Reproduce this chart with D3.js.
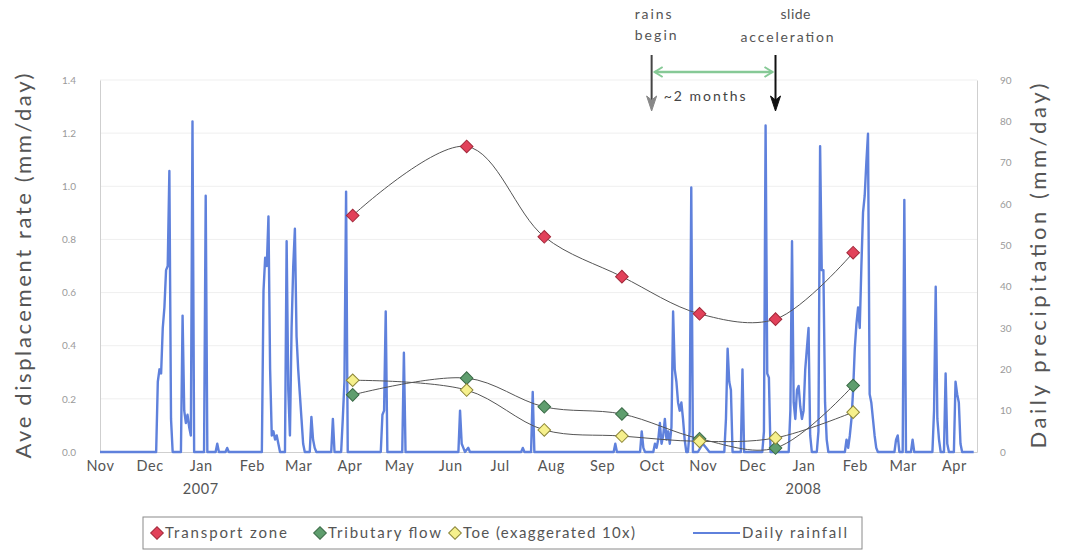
<!DOCTYPE html>
<html>
<head>
<meta charset="utf-8">
<script src="https://cdn.jsdelivr.net/npm/d3@7"></script>
<style>
  body { margin: 0; background: #fff; }
  svg { display: block; font-family: Lato, "Open Sans", sans-serif; }
</style>
</head>
<body>
<div id="chart"></div>
<script>
// displacement survey dates and rates (mm/day)
const sampleDates = ["2007-04-03", "2007-06-11", "2007-07-28", "2007-09-13", "2007-10-30", "2007-12-15", "2008-01-31"]
const transportZone = [0.89, 1.15, 0.81, 0.66, 0.52, 0.50, 0.75]
const tributaryFlow = [0.215, 0.278, 0.17, 0.143, 0.05, 0.015, 0.25]
const toeRate = [0.27, 0.233, 0.083, 0.06, 0.04, 0.053, 0.15]

const leftTicks = [0, 0.2, 0.4, 0.6, 0.8, 1.0, 1.2, 1.4]
const rightTicks = [0, 10, 20, 30, 40, 50, 60, 70, 80, 90]
const yearTicks = ["2007-01-01", "2008-01-01"]

// daily rainfall (mm/day), dry stretches between listed days are 0
const rainfall = [
  ["2006-11-01", 0],
  ["2006-12-05", 0], ["2006-12-06", 17], ["2006-12-07", 20], ["2006-12-08", 19], ["2006-12-09", 30], ["2006-12-10", 35],
  ["2006-12-11", 44], ["2006-12-12", 45], ["2006-12-13", 68], ["2006-12-14", 8], ["2006-12-15", 0],
  ["2006-12-20", 0], ["2006-12-21", 33], ["2006-12-22", 10], ["2006-12-23", 7], ["2006-12-24", 9], ["2006-12-25", 6],
  ["2006-12-26", 4], ["2006-12-27", 80], ["2006-12-28", 0],
  ["2007-01-03", 0], ["2007-01-04", 62], ["2007-01-05", 0],
  ["2007-01-10", 0], ["2007-01-11", 2], ["2007-01-12", 0],
  ["2007-01-16", 0], ["2007-01-17", 1], ["2007-01-18", 0],
  ["2007-02-07", 0], ["2007-02-08", 39], ["2007-02-09", 47], ["2007-02-10", 45], ["2007-02-11", 57], ["2007-02-12", 20],
  ["2007-02-13", 4], ["2007-02-14", 5], ["2007-02-15", 3], ["2007-02-16", 4], ["2007-02-17", 2], ["2007-02-18", 0],
  ["2007-02-21", 0], ["2007-02-22", 51], ["2007-02-23", 15], ["2007-02-24", 4], ["2007-02-25", 30], ["2007-02-26", 45],
  ["2007-02-27", 54], ["2007-02-28", 28], ["2007-03-01", 20], ["2007-03-02", 14], ["2007-03-03", 8], ["2007-03-04", 2], ["2007-03-05", 0],
  ["2007-03-08", 0], ["2007-03-09", 8.5], ["2007-03-10", 3], ["2007-03-11", 1], ["2007-03-12", 0],
  ["2007-03-21", 0], ["2007-03-22", 8], ["2007-03-23", 0],
  ["2007-03-27", 0], ["2007-03-28", 8], ["2007-03-29", 17], ["2007-03-30", 63], ["2007-03-31", 0],
  ["2007-04-20", 0], ["2007-04-21", 9], ["2007-04-22", 10], ["2007-04-23", 34], ["2007-04-24", 0],
  ["2007-05-03", 0], ["2007-05-04", 24], ["2007-05-05", 0],
  ["2007-06-06", 0], ["2007-06-07", 10], ["2007-06-08", 2], ["2007-06-09", 1], ["2007-06-10", 0], ["2007-06-12", 1], ["2007-06-13", 0],
  ["2007-07-14", 0], ["2007-07-15", 1], ["2007-07-16", 0],
  ["2007-07-20", 0], ["2007-07-21", 14.5], ["2007-07-22", 0],
  ["2007-09-08", 0], ["2007-09-09", 2], ["2007-09-10", 0],
  ["2007-09-24", 0], ["2007-09-25", 5], ["2007-09-26", 1], ["2007-09-27", 0],
  ["2007-10-02", 0], ["2007-10-03", 2], ["2007-10-04", 1], ["2007-10-05", 3], ["2007-10-06", 7], ["2007-10-07", 2],
  ["2007-10-08", 4], ["2007-10-09", 8], ["2007-10-10", 3], ["2007-10-11", 5], ["2007-10-12", 2], ["2007-10-13", 6],
  ["2007-10-14", 34], ["2007-10-15", 20], ["2007-10-16", 17], ["2007-10-17", 12], ["2007-10-18", 10], ["2007-10-19", 12],
  ["2007-10-20", 8], ["2007-10-21", 3], ["2007-10-22", 0],
  ["2007-10-23", 0], ["2007-10-24", 5], ["2007-10-25", 64], ["2007-10-26", 0],
  ["2007-10-29", 0], ["2007-11-01", 2], ["2007-11-03", 1], ["2007-11-05", 0],
  ["2007-11-14", 0], ["2007-11-15", 8], ["2007-11-16", 25], ["2007-11-17", 17], ["2007-11-18", 15], ["2007-11-19", 0],
  ["2007-11-24", 0], ["2007-11-25", 20], ["2007-11-26", 0],
  ["2007-12-07", 0], ["2007-12-08", 5], ["2007-12-09", 79], ["2007-12-10", 19], ["2007-12-11", 18], ["2007-12-12", 0],
  ["2007-12-23", 0], ["2007-12-24", 10], ["2007-12-25", 51], ["2007-12-26", 12], ["2007-12-27", 8], ["2007-12-28", 15],
  ["2007-12-29", 16], ["2007-12-30", 11], ["2007-12-31", 8], ["2008-01-01", 10], ["2008-01-02", 20], ["2008-01-03", 25],
  ["2008-01-04", 30], ["2008-01-05", 4], ["2008-01-06", 0],
  ["2008-01-09", 0], ["2008-01-10", 5], ["2008-01-11", 74], ["2008-01-12", 44], ["2008-01-13", 44], ["2008-01-14", 12],
  ["2008-01-15", 3], ["2008-01-16", 0],
  ["2008-01-26", 0], ["2008-01-27", 3], ["2008-01-28", 1], ["2008-01-29", 4], ["2008-01-30", 8], ["2008-01-31", 15],
  ["2008-02-01", 25], ["2008-02-02", 31], ["2008-02-03", 35], ["2008-02-04", 30], ["2008-02-05", 45], ["2008-02-06", 58],
  ["2008-02-07", 62], ["2008-02-08", 70], ["2008-02-09", 77], ["2008-02-10", 14], ["2008-02-11", 12], ["2008-02-12", 8],
  ["2008-02-13", 4], ["2008-02-14", 1], ["2008-02-15", 0],
  ["2008-02-25", 0], ["2008-02-26", 3], ["2008-02-27", 4], ["2008-02-28", 0],
  ["2008-03-01", 0], ["2008-03-02", 61], ["2008-03-03", 0],
  ["2008-03-06", 0], ["2008-03-07", 3], ["2008-03-08", 0],
  ["2008-03-19", 0], ["2008-03-20", 10], ["2008-03-21", 40], ["2008-03-22", 8], ["2008-03-23", 3], ["2008-03-24", 0],
  ["2008-03-26", 0], ["2008-03-27", 19], ["2008-03-28", 2], ["2008-03-29", 0],
  ["2008-04-01", 0], ["2008-04-02", 17], ["2008-04-03", 14], ["2008-04-04", 12], ["2008-04-05", 2], ["2008-04-06", 0],
  ["2008-04-13", 0]
]

const rainsBegin = "2007-10-01"
const slideAcceleration = "2007-12-15"

const parse = d3.timeParse("%Y-%m-%d")
const W = 1072, H = 551

const svg = d3.select("#chart")
  .append("svg")
  .attr("width", W)
  .attr("height", H)

const x = d3.scaleTime()
  .domain([parse("2006-11-01"), parse("2008-04-15")])
  .range([100, 977])
const yL = d3.scaleLinear().domain([0, 1.4]).range([452, 80])
const yR = d3.scaleLinear().domain([0, 90]).range([452, 80])

// gridlines
svg.append("g")
  .selectAll("line")
  .data(leftTicks.slice(1))
  .join("line")
  .attr("x1", 100).attr("x2", 977)
  .attr("y1", d => yL(d)).attr("y2", d => yL(d))
  .attr("stroke", "#efefef")

// axes
const styleAxis = (g, color, size) => {
  g.select(".domain").attr("stroke", "#cfcfcf")
  g.selectAll("text").attr("fill", color).attr("font-size", size).attr("font-family", "Lato, sans-serif")
}

svg.append("g")
  .attr("transform", "translate(100,0)")
  .call(d3.axisLeft(yL).tickValues(leftTicks).tickFormat(d3.format(".1f")).tickSize(0).tickPadding(24))
  .call(g => styleAxis(g, "#9a9a9a", 10))

svg.append("g")
  .attr("transform", "translate(977,0)")
  .call(d3.axisRight(yR).tickValues(rightTicks).tickSize(0).tickPadding(23))
  .call(g => styleAxis(g, "#9a9a9a", 10))

const monthTicks = d3.timeMonth.range(parse("2006-11-01"), parse("2008-04-02"))
svg.append("g")
  .attr("transform", "translate(0,452)")
  .call(d3.axisBottom(x).tickValues(monthTicks).tickFormat(d3.timeFormat("%b")).tickSize(0).tickPadding(9))
  .call(g => styleAxis(g, "#555", 14.5))
  .call(g => g.selectAll("text").attr("letter-spacing", 0.6))

svg.append("g")
  .selectAll("text")
  .data(yearTicks)
  .join("text")
  .attr("x", d => x(parse(d)))
  .attr("y", 494)
  .attr("text-anchor", "middle")
  .attr("fill", "#555")
  .attr("font-size", 14.5)
  .attr("letter-spacing", 0.6)
  .text(d => d.slice(0, 4))

// axis titles
svg.append("text")
  .attr("transform", "translate(31,266) rotate(-90)")
  .attr("text-anchor", "middle")
  .attr("fill", "#555")
  .attr("font-size", 22)
  .attr("textLength", 385)
  .attr("lengthAdjust", "spacing")
  .text("Ave displacement rate (mm/day)")

svg.append("text")
  .attr("transform", "translate(1046,266) rotate(-90)")
  .attr("text-anchor", "middle")
  .attr("fill", "#555")
  .attr("font-size", 22)
  .attr("textLength", 365)
  .attr("lengthAdjust", "spacing")
  .text("Daily precipitation (mm/day)")

// rainfall
const rainLine = d3.line()
  .x(d => x(parse(d[0])))
  .y(d => yR(d[1]))

svg.append("path")
  .datum(rainfall)
  .attr("fill", "none")
  .attr("stroke", "#5f81dc")
  .attr("stroke-width", 2.4)
  .attr("stroke-linejoin", "round")
  .attr("d", rainLine)

// displacement series
const series = [
  {name: "Transport zone", len: 122, values: transportZone, fill: "#e2415a", stroke: "#a3283a"},
  {name: "Tributary flow", len: 113, values: tributaryFlow, fill: "#5f9e6e", stroke: "#3b6b47"},
  {name: "Toe (exaggerated 10x)", len: 172, values: toeRate, fill: "#f6f08c", stroke: "#8c8638"}
]

const dispLine = d3.line()
  .x((d, i) => x(parse(sampleDates[i])))
  .y(d => yL(d))
  .curve(d3.curveCatmullRom)

svg.append("g")
  .selectAll("path")
  .data(series)
  .join("path")
  .attr("fill", "none")
  .attr("stroke", "#555")
  .attr("stroke-width", 1)
  .attr("d", d => dispLine(d.values))

const diamond = d3.symbol().type(d3.symbolSquare).size(80)

series.forEach(s => {
  svg.append("g")
    .selectAll("path")
    .data(s.values)
    .join("path")
    .attr("transform", (d, i) => `translate(${x(parse(sampleDates[i]))},${yL(d)}) rotate(45)`)
    .attr("d", diamond)
    .attr("fill", s.fill)
    .attr("stroke", s.stroke)
    .attr("stroke-width", 1)
})

// annotations
const ax1 = x(parse(rainsBegin)), ax2 = x(parse(slideAcceleration))
const note = svg.append("g").attr("font-size", 14).attr("fill", "#555").attr("lengthAdjust", "spacing")
note.append("text").attr("x", ax1 - 17).attr("y", 19).attr("textLength", 37).text("rains")
note.append("text").attr("x", ax1 - 17).attr("y", 40).attr("textLength", 42).text("begin")
note.append("text").attr("x", ax2 + 5).attr("y", 19).attr("textLength", 30).text("slide")
note.append("text").attr("x", ax2 - 35).attr("y", 42).attr("textLength", 93).text("acceleration")
note.append("text").attr("x", ax1 + 12).attr("y", 101).attr("fill", "#444").attr("textLength", 82).text("~2 months")

const arrow = (xc, color, headColor) => {
  svg.append("line")
    .attr("x1", xc).attr("x2", xc).attr("y1", 55).attr("y2", 106)
    .attr("stroke", color).attr("stroke-width", 2)
  svg.append("path")
    .attr("d", `M${xc - 5},${96} L${xc},${111} L${xc + 5},${96} L${xc},${100} Z`)
    .attr("fill", headColor)
    .attr("stroke", headColor)
    .attr("stroke-width", 1)
}
arrow(ax1, "#444", "#888")
arrow(ax2, "#111", "#111")

svg.append("line")
  .attr("x1", ax1 + 3).attr("x2", ax2 - 3).attr("y1", 72).attr("y2", 72)
  .attr("stroke", "#86c996").attr("stroke-width", 2.5)
svg.append("path")
  .attr("d", `M${ax1 + 11},67 L${ax1 + 3},72 L${ax1 + 11},77 M${ax2 - 11},67 L${ax2 - 3},72 L${ax2 - 11},77`)
  .attr("fill", "none").attr("stroke", "#86c996").attr("stroke-width", 2)

// legend
const legend = svg.append("g")
legend.append("rect")
  .attr("x", 143).attr("y", 517).attr("width", 719).attr("height", 32)
  .attr("fill", "#fff").attr("stroke", "#8a8a8a")

const legendX = [157, 320, 455]
series.forEach((s, i) => {
  legend.append("path")
    .attr("transform", `translate(${legendX[i]},533) rotate(45)`)
    .attr("d", diamond)
    .attr("fill", s.fill).attr("stroke", s.stroke)
  legend.append("text")
    .attr("x", legendX[i] + 8).attr("y", 538)
    .attr("fill", "#555").attr("font-size", 15)
    .attr("textLength", s.len).attr("lengthAdjust", "spacing")
    .text(s.name)
})
legend.append("line")
  .attr("x1", 693).attr("x2", 740).attr("y1", 533).attr("y2", 533)
  .attr("stroke", "#5f81dc").attr("stroke-width", 2)
legend.append("text")
  .attr("x", 742).attr("y", 538)
  .attr("fill", "#555").attr("font-size", 15)
  .attr("textLength", 105).attr("lengthAdjust", "spacing")
  .text("Daily rainfall")
</script>
</body>
</html>
